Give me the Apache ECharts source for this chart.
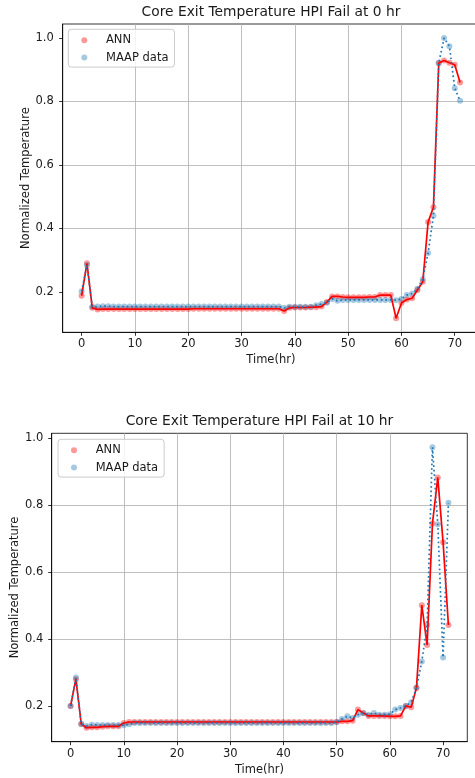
<!DOCTYPE html>
<html>
<head>
<meta charset="utf-8">
<script src="https://cdn.jsdelivr.net/npm/echarts@6/dist/echarts.min.js"></script>
<style>
  html, body { margin: 0; padding: 0; background: #fff; }
  #main { width: 475px; height: 778px; }
</style>
</head>
<body>
<div id="main"></div>
<script>
// time axis (hr)
const hours = [0,1,2,3,4,5,6,7,8,9,10,11,12,13,14,15,16,17,18,19,20,21,22,23,24,25,26,27,28,29,
  30,31,32,33,34,35,36,37,38,39,40,41,42,43,44,45,46,47,48,49,50,51,52,53,54,55,56,57,58,59,
  60,61,62,63,64,65,66,67,68,69,70,71];

// HPI fail at 0 hr
const ann0 = [0.188,0.290,0.150,0.145,0.146,0.146,0.146,0.146,0.146,0.146,
  0.146,0.146,0.146,0.146,0.146,0.146,0.146,0.146,0.146,0.146,
  0.146,0.147,0.147,0.147,0.147,0.147,0.147,0.147,0.147,0.147,
  0.147,0.147,0.147,0.147,0.147,0.147,0.147,0.147,0.140,0.150,
  0.151,0.151,0.151,0.152,0.152,0.154,0.168,0.186,0.186,0.184,
  0.183,0.183,0.183,0.183,0.184,0.184,0.190,0.190,0.190,0.117,
  0.165,0.176,0.180,0.206,0.232,0.420,0.467,0.921,0.929,0.922,
  0.916,0.860];
const maap0 = [0.202,0.285,0.153,0.154,0.155,0.155,0.154,0.154,0.154,0.154,
  0.154,0.154,0.154,0.154,0.154,0.154,0.154,0.154,0.154,0.154,
  0.154,0.154,0.154,0.154,0.154,0.154,0.154,0.154,0.154,0.154,
  0.154,0.154,0.154,0.154,0.154,0.154,0.154,0.154,0.150,0.153,
  0.153,0.153,0.153,0.153,0.158,0.162,0.166,0.178,0.172,0.175,
  0.175,0.175,0.175,0.175,0.175,0.175,0.175,0.175,0.175,0.174,
  0.178,0.190,0.195,0.210,0.240,0.323,0.440,0.921,1.000,0.974,
  0.842,0.802];

// HPI fail at 10 hr
const ann10 = [0.200,0.280,0.146,0.135,0.136,0.136,0.138,0.139,0.139,0.139,
  0.149,0.152,0.152,0.152,0.152,0.152,0.152,0.152,0.152,0.152,
  0.152,0.152,0.152,0.152,0.152,0.152,0.152,0.152,0.152,0.152,
  0.152,0.152,0.152,0.152,0.152,0.152,0.152,0.152,0.152,0.152,
  0.152,0.152,0.152,0.152,0.152,0.152,0.152,0.152,0.152,0.152,
  0.152,0.154,0.154,0.156,0.189,0.179,0.170,0.170,0.170,0.170,
  0.169,0.169,0.170,0.200,0.196,0.254,0.501,0.382,0.745,0.883,
  0.689,0.442];
const maap10 = [0.200,0.285,0.146,0.140,0.144,0.143,0.143,0.143,0.143,0.143,
  0.142,0.145,0.149,0.149,0.149,0.149,0.149,0.149,0.149,0.149,
  0.149,0.149,0.149,0.149,0.149,0.149,0.149,0.149,0.149,0.149,
  0.149,0.149,0.149,0.149,0.149,0.149,0.149,0.149,0.149,0.149,
  0.149,0.149,0.149,0.149,0.149,0.149,0.149,0.149,0.149,0.149,
  0.152,0.161,0.169,0.164,0.174,0.178,0.174,0.179,0.174,0.174,
  0.175,0.189,0.194,0.200,0.211,0.254,0.333,0.442,0.973,0.743,
  0.345,0.807];

const xTicks = [0,10,20,30,40,50,60,70];
const yTicks = [0.2,0.4,0.6,0.8,1.0];
const titles = ["Core Exit Temperature HPI Fail at 0 hr", "Core Exit Temperature HPI Fail at 10 hr"];

const FONT = "DejaVu Sans";
const INK = "#1a1a1a";

function pairs(vals) {
  return hours.map(function (h, i) { return [h, vals[i]]; });
}
function padMin(v) { return v.min - 0.05 * (v.max - v.min); }
function padMax(v) { return v.max + 0.05 * (v.max - v.min); }

function xAxis(g) {
  return {
    type: "value", gridIndex: g,
    min: padMin, max: padMax, splitNumber: 8,
    name: "Time(hr)", nameLocation: "middle", nameGap: 22, nameMoveOverlap: false,
    nameTextStyle: { color: INK, fontSize: 11.5, fontFamily: FONT },
    axisLine: { show: true, onZero: false, lineStyle: { color: "#000", width: 0.8 } },
    axisTick: { show: true, length: 3.5, customValues: xTicks, lineStyle: { color: "#000", width: 0.8 } },
    axisLabel: { customValues: xTicks, margin: 6, color: INK, fontSize: 11.5, fontFamily: FONT },
    splitLine: { show: true, showMinLine: false, showMaxLine: false, lineStyle: { color: "#b0b0b0", width: 0.8 } }
  };
}
function yAxis(g, labelMargin) {
  return {
    type: "value", gridIndex: g,
    min: padMin, max: padMax, splitNumber: 5,
    name: "Normalized Temperature", nameLocation: "middle", nameGap: 31, nameMoveOverlap: false,
    nameTextStyle: { color: INK, fontSize: 11.5, fontFamily: FONT },
    axisLine: { show: true, onZero: false, lineStyle: { color: "#000", width: 0.8 } },
    axisTick: { show: true, length: 3.5, customValues: yTicks, lineStyle: { color: "#000", width: 0.8 } },
    axisLabel: {
      customValues: yTicks, margin: labelMargin, color: INK, fontSize: 11.5, fontFamily: FONT,
      formatter: function (v) { return v.toFixed(1); }
    },
    splitLine: { show: true, showMinLine: false, showMaxLine: false, lineStyle: { color: "#b0b0b0", width: 0.8 } }
  };
}
function seriesFor(g, ann, maap) {
  return [
    { name: "ANN", type: "scatter", xAxisIndex: g, yAxisIndex: g, data: pairs(ann),
      symbolSize: 6, itemStyle: { color: "rgba(255,0,0,0.5)" }, z: 2 },
    { name: "MAAP data", type: "scatter", xAxisIndex: g, yAxisIndex: g, data: pairs(maap),
      symbolSize: 6, itemStyle: { color: "rgba(31,119,180,0.5)" }, z: 3 },
    { name: "ANN line", type: "line", xAxisIndex: g, yAxisIndex: g, data: pairs(ann),
      showSymbol: false, symbol: "none", lineStyle: { color: "#ff0000", width: 1.7 }, z: 4 },
    { name: "MAAP line", type: "line", xAxisIndex: g, yAxisIndex: g, data: pairs(maap),
      showSymbol: false, symbol: "none", lineStyle: { color: "#1f77b4", width: 1.7, type: [1.7, 2.8] }, z: 5 }
  ];
}
function legendAt(left, top) {
  return {
    data: ["ANN", "MAAP data"], orient: "vertical", left: left, top: top,
    icon: "circle", itemWidth: 6, itemHeight: 6, itemGap: 5.3,
    padding: [5, 6, 3.5, 13],
    backgroundColor: "rgba(255,255,255,0.8)", borderColor: "#cccccc", borderWidth: 1, borderRadius: 3,
    formatter: "{g|}{name}",
    textStyle: { color: INK, fontSize: 11.5, fontFamily: FONT, lineHeight: 12, rich: { g: { width: 13.7 } } }
  };
}

var chart = echarts.init(document.getElementById("main"));
var option = {
  animation: false,
  backgroundColor: "#fff",
  textStyle: { fontFamily: FONT },
  grid: [
    { left: 62.7, top: 24, width: 416.3, height: 308.3, outerBoundsMode: "none", containLabel: false,
      show: true, borderColor: "#000", borderWidth: 0.8, backgroundColor: "transparent" },
    { left: 51.7, top: 433.3, width: 415.6, height: 308.4, outerBoundsMode: "none", containLabel: false,
      show: true, borderColor: "#000", borderWidth: 0.8, backgroundColor: "transparent" }
  ],
  xAxis: [xAxis(0), xAxis(1)],
  yAxis: [yAxis(0, 9), yAxis(1, 8.5)],
  legend: [legendAt(68.3, 29.3), legendAt(58, 439.3)],
  graphic: [
    { type: "text", x: 271, y: 12, style: { text: titles[0], align: "center", verticalAlign: "middle", fill: INK, font: "13.8px 'DejaVu Sans'" } },
    { type: "text", x: 259.5, y: 421, style: { text: titles[1], align: "center", verticalAlign: "middle", fill: INK, font: "13.8px 'DejaVu Sans'" } }
  ],
  series: seriesFor(0, ann0, maap0).concat(seriesFor(1, ann10, maap10))
};
chart.setOption(option);
</script>
</body>
</html>
